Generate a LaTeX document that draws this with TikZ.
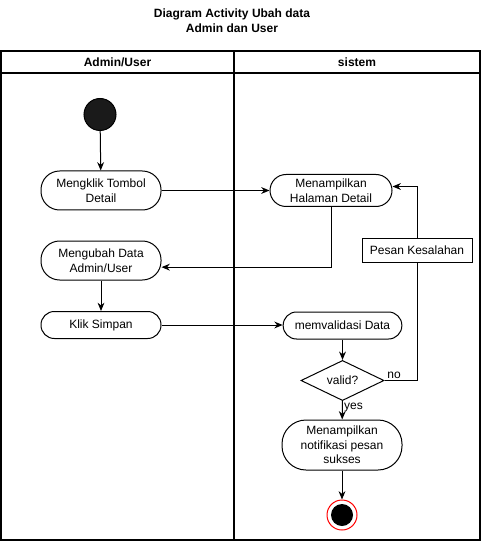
\documentclass[tikz,border=0pt]{standalone}
\usepackage{fontspec}
\setmainfont{Liberation Sans}
\usepackage{xcolor}
\usetikzlibrary{calc,arrows.meta,positioning,shapes.geometric}
\definecolor{startc}{HTML}{1A1A1A}
\definecolor{endc}{HTML}{FF0000}
\tikzset{
  ar/.style={-{Stealth[length=2.2mm,width=1.8mm]},line width=0.75pt},
  act/.style={draw,line width=0.75pt,rounded corners=#1,fill=white,align=center,
    minimum width=90pt,inner sep=2pt,font=\fontsize{9}{11}\selectfont},
  act/.default=14pt,
  lbl/.style={font=\fontsize{9}{11}\selectfont,inner sep=1pt},
  lane/.style={line width=1.1pt},
  dec/.style={diamond,draw,line width=0.75pt,fill=white,inner sep=0pt,
    minimum width=62.25pt,minimum height=29.25pt,font=\fontsize{9}{11}\selectfont}
}
\begin{document}
\begin{tikzpicture}[x=0.75pt,y=-0.75pt]
\useasboundingbox (0,0) rectangle (481,541);
% judul
\node[font=\bfseries\fontsize{9}{11}\selectfont,align=center] (judul) at (232,21) {Diagram Activity Ubah data\\Admin dan User};
% swimlane
\draw[lane] (1,51) rectangle (480,540);
\draw[lane] (1,73) -- (480,73);
\draw[lane] (234,51) -- (234,540);
\node[font=\bfseries\fontsize{9}{11}\selectfont] (hUser) at (117.5,62) {Admin/User};
\node[font=\bfseries\fontsize{9}{11}\selectfont] (hSis) at (357,62) {sistem};
% aktivitas user
\node[circle,draw,line width=0.75pt,fill=startc,minimum size=24pt] (mulai) at (100,114.5) {};
\node[act,minimum height=29.25pt] (klikDetail) at (101,190.5) {Mengklik Tombol\\Detail};
\node[act,minimum height=29.25pt] (ubah) at (101,260.5) {Mengubah Data\\Admin/User};
\node[act=10pt,minimum height=20.25pt] (simpan) at (101,325) {Klik Simpan};
% aktivitas sistem
\node[act=12pt,minimum width=91.5pt,minimum height=24pt] (tampil) at (331,190.5) {Menampilkan\\Halaman Detail};
\node[draw,line width=0.75pt,fill=white,minimum width=82.5pt,minimum height=18pt,font=\fontsize{9}{11}\selectfont,inner sep=1pt] (pesan) at (417,250) {Pesan Kesalahan};
\node[act=10pt,minimum width=89pt,minimum height=20.25pt] (validasi) at (342.5,325.5) {memvalidasi Data};
\node[dec] (cek) at (342.5,380.5) {valid?};
\node[act=18pt,minimum height=37.5pt] (notif) at (342,445) {Menampilkan\\notifikasi pesan\\sukses};
\node[circle,draw=endc,line width=0.75pt,fill=white,minimum size=22.5pt,
  path picture={\fill[black] (path picture bounding box.center) circle (8.25pt);}] (selesai) at (342,515) {};
% alur
\draw[ar] (mulai) -- (klikDetail);
\draw[ar] (klikDetail) -- (tampil);
\draw[ar] (tampil.south) |- ([yshift=-5pt]ubah.east);
\draw[ar] (ubah) -- (simpan);
\draw[ar] (simpan) -- (simpan -| validasi.west);
\draw[ar] (validasi) -- (cek);
\draw[line width=0.75pt] (cek.east) -| (pesan.south);
\draw[ar] (pesan.north) |- ([yshift=3pt]tampil.east);
\node[lbl,above right] (no) at ([xshift=1pt]cek.east) {no};
\draw[ar] (cek) -- (notif);
\node[lbl,right] (yes) at ([yshift=-5pt]cek.south) {yes};
\draw[ar] (notif) -- (selesai);
\end{tikzpicture}
\end{document}
